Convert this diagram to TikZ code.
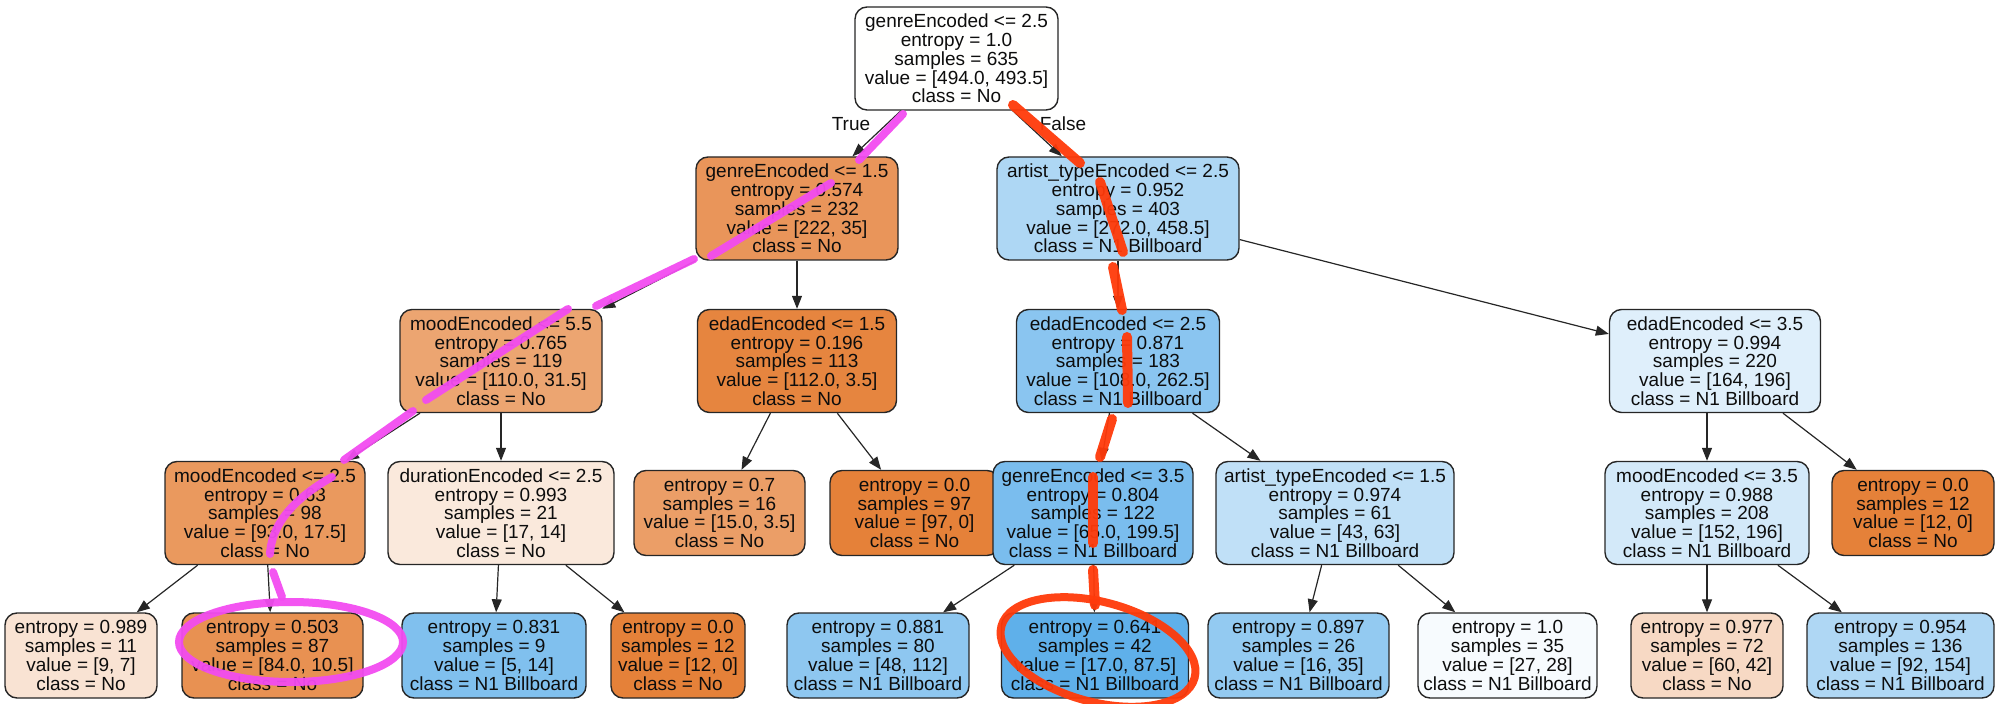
\documentclass[tikz,border=0pt]{standalone}
\usepackage{fontspec}
\setmainfont{Liberation Sans}
\usetikzlibrary{arrows.meta}
\definecolor{cRoot}{HTML}{FFFFFE}
\definecolor{cGa}{HTML}{E9955A}
\definecolor{cArt}{HTML}{AED7F4}
\definecolor{cMa}{HTML}{ECA571}
\definecolor{cEa}{HTML}{E6853F}
\definecolor{cEb}{HTML}{8AC5F0}
\definecolor{cEc}{HTML}{DFEFFB}
\definecolor{cMb}{HTML}{EA995E}
\definecolor{cDur}{HTML}{FAE9DC}
\definecolor{cLa}{HTML}{EB9E67}
\definecolor{cOr}{HTML}{E58139}
\definecolor{cGb}{HTML}{7ABDEE}
\definecolor{cAb}{HTML}{C0E0F7}
\definecolor{cMc}{HTML}{D3E9F9}
\definecolor{cLb}{HTML}{F9E3D3}
\definecolor{cLc}{HTML}{E89152}
\definecolor{cLd}{HTML}{80C0EE}
\definecolor{cLe}{HTML}{8EC7F0}
\definecolor{cLf}{HTML}{5FB0EA}
\definecolor{cLg}{HTML}{93CAF1}
\definecolor{cLh}{HTML}{F7FBFE}
\definecolor{cLi}{HTML}{F7D9C4}
\definecolor{cLj}{HTML}{AFD7F4}
\definecolor{annpink}{HTML}{F24CF0}
\definecolor{annred}{HTML}{FF3A0A}
\begin{document}
\begin{tikzpicture}[x=0.5pt,y=-0.5pt,
  tn/.style={draw=black!85, line width=0.7pt, rounded corners=6pt, align=center,
    font=\fontsize{9.5}{9.375}\selectfont, text=black!95, inner xsep=2pt, inner ysep=0pt},
  inn/.style={tn, minimum height=51.5pt},
  lf/.style={tn, minimum height=42.5pt},
  wd/.style={minimum width=#1*0.5pt},
  ed/.style={draw=black!85, line width=0.6pt, -{Triangle[length=6.5pt,width=5pt]}},
  elab/.style={font=\fontsize{9.5}{9.375}\selectfont, text=black!95, inner sep=0pt},
  pk/.style={draw=annpink, line width=4pt, line cap=round, opacity=0.95},
  rd/.style={draw=annred, line width=5pt, line cap=round, opacity=0.95}]
\useasboundingbox (0,0) rectangle (2000,704);

% level 0
\node[inn, wd=203, fill=cRoot] (root) at (956.5,58.5) {genreEncoded <= 2.5\\entropy = 1.0\\samples = 635\\value = [494.0, 493.5]\\class = No};
% level 1
\node[inn, wd=202, fill=cGa] (g15) at (797,208.5) {genreEncoded <= 1.5\\entropy = 0.574\\samples = 232\\value = [222, 35]\\class = No};
\node[inn, wd=242, fill=cArt] (a25) at (1118,208.5) {artist\_typeEncoded <= 2.5\\entropy = 0.952\\samples = 403\\value = [272.0, 458.5]\\class = N1 Billboard};
% level 2
\node[inn, wd=202, fill=cMa] (m55) at (501,361) {moodEncoded <= 5.5\\entropy = 0.765\\samples = 119\\value = [110.0, 31.5]\\class = No};
\node[inn, wd=199, fill=cEa] (e15) at (797,361) {edadEncoded <= 1.5\\entropy = 0.196\\samples = 113\\value = [112.0, 3.5]\\class = No};
\node[inn, wd=203, fill=cEb] (e25) at (1118,361) {edadEncoded <= 2.5\\entropy = 0.871\\samples = 183\\value = [108.0, 262.5]\\class = N1 Billboard};
\node[inn, wd=211, fill=cEc] (e35) at (1715,361) {edadEncoded <= 3.5\\entropy = 0.994\\samples = 220\\value = [164, 196]\\class = N1 Billboard};
% level 3
\node[inn, wd=200, fill=cMb] (m25) at (265,513) {moodEncoded <= 2.5\\entropy = 0.63\\samples = 98\\value = [93.0, 17.5]\\class = No};
\node[inn, wd=226, fill=cDur] (d25) at (501,513) {durationEncoded <= 2.5\\entropy = 0.993\\samples = 21\\value = [17, 14]\\class = No};
\node[lf, wd=171, fill=cLa] (l07) at (719.5,513) {entropy = 0.7\\samples = 16\\value = [15.0, 3.5]\\class = No};
\node[lf, wd=169, fill=cOr] (l97) at (914.5,513) {entropy = 0.0\\samples = 97\\value = [97, 0]\\class = No};
\node[inn, wd=200, fill=cGb] (g35) at (1093,513) {genreEncoded <= 3.5\\entropy = 0.804\\samples = 122\\value = [65.0, 199.5]\\class = N1 Billboard};
\node[inn, wd=238, fill=cAb] (a15) at (1335,513) {artist\_typeEncoded <= 1.5\\entropy = 0.974\\samples = 61\\value = [43, 63]\\class = N1 Billboard};
\node[inn, wd=204, fill=cMc] (m35) at (1707,513) {moodEncoded <= 3.5\\entropy = 0.988\\samples = 208\\value = [152, 196]\\class = N1 Billboard};
\node[lf, wd=162, fill=cOr] (l12a) at (1913,513) {entropy = 0.0\\samples = 12\\value = [12, 0]\\class = No};
% level 4
\node[lf, wd=152, fill=cLb] (l989) at (81,655.5) {entropy = 0.989\\samples = 11\\value = [9, 7]\\class = No};
\node[lf, wd=181, fill=cLc] (l503) at (272.5,655.5) {entropy = 0.503\\samples = 87\\value = [84.0, 10.5]\\class = No};
\node[lf, wd=184, fill=cLd] (l831) at (494,655.5) {entropy = 0.831\\samples = 9\\value = [5, 14]\\class = N1 Billboard};
\node[lf, wd=134, fill=cOr] (l12b) at (678,655.5) {entropy = 0.0\\samples = 12\\value = [12, 0]\\class = No};
\node[lf, wd=182, fill=cLe] (l881) at (878,655.5) {entropy = 0.881\\samples = 80\\value = [48, 112]\\class = N1 Billboard};
\node[lf, wd=187, fill=cLf] (l641) at (1095,655.5) {entropy = 0.641\\samples = 42\\value = [17.0, 87.5]\\class = N1 Billboard};
\node[lf, wd=181, fill=cLg] (l897) at (1298.5,655.5) {entropy = 0.897\\samples = 26\\value = [16, 35]\\class = N1 Billboard};
\node[lf, wd=179, fill=cLh] (l10) at (1507.5,655.5) {entropy = 1.0\\samples = 35\\value = [27, 28]\\class = N1 Billboard};
\node[lf, wd=152, fill=cLi] (l977) at (1707,655.5) {entropy = 0.977\\samples = 72\\value = [60, 42]\\class = No};
\node[lf, wd=187, fill=cLj] (l954) at (1900.5,655.5) {entropy = 0.954\\samples = 136\\value = [92, 154]\\class = N1 Billboard};

% edges
\draw[ed] (root) -- (g15);
\draw[ed] (root) -- (a25);
\node[elab] (tlab) at (851,124) {True};
\node[elab] (flab) at (1063,124) {False};
\draw[ed] (g15) -- (m55);
\draw[ed] (g15) -- (e15);
\draw[ed] (a25) -- (e25);
\draw[ed] (a25) -- (e35);
\draw[ed] (m55) -- (m25);
\draw[ed] (m55.south -| d25.north) -- (d25);
\draw[ed] (e15) -- (l07);
\draw[ed] (e15) -- (l97);
\draw[ed] (e25) -- (g35);
\draw[ed] (e25) -- (a15);
\draw[ed] (e35.south -| m35.north) -- (m35);
\draw[ed] (e35) -- (l12a);
\draw[ed] (m25) -- (l989);
\draw[ed] (m25) -- (l503);
\draw[ed] (d25) -- (l831);
\draw[ed] (d25) -- (l12b);
\draw[ed] (g35) -- (l881);
\draw[ed] (g35) -- (l641);
\draw[ed] (a15) -- (l897);
\draw[ed] (a15) -- (l10);
\draw[ed] (m35) -- (l977);
\draw[ed] (m35) -- (l954);

% pink annotation
\draw[pk] (903,114) -- (859,160);
\draw[pk] (831,183) -- (711,256);
\draw[pk] (694,259) -- (596,306);
\draw[pk] (568,309) -- (426,400);
\draw[pk] (413,411) -- (344,460);
\draw[pk] (332,477) .. controls (300,495) and (272,520) .. (270,554);
\draw[pk] (273,572) -- (282,597);
\draw[pk] (291,642) ellipse [x radius=56pt, y radius=20pt];

% red annotation
\draw[rd] (1013,105) -- (1080,163);
\draw[rd] (1100,182) -- (1123,252);
\draw[rd] (1113,267) -- (1122,310);
\draw[rd] (1127,337) -- (1128,403);
\draw[rd] (1112,419) -- (1100,457);
\draw[rd] (1093,477) -- (1093,543);
\draw[rd] (1093,570) -- (1095,605);
\draw[rd, line width=4pt, rotate around={-15:(1098,652)}] (1098,652) ellipse [x radius=50pt, y radius=25pt];
\end{tikzpicture}
\end{document}
